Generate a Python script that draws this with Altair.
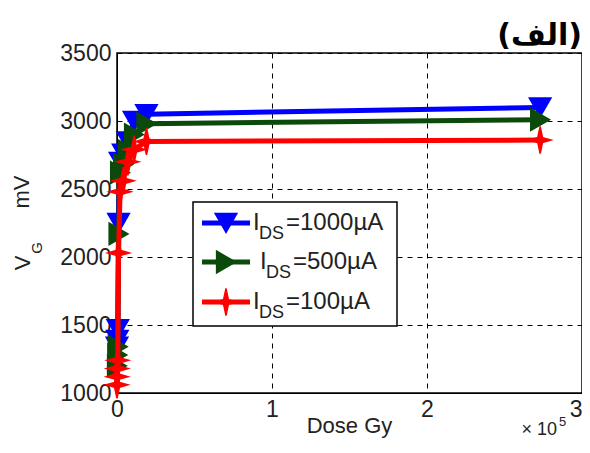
import altair as alt
import pandas as pd

# ---- data (dose in Gy, gate voltage in mV) ----
dose_1000 = [0, 200, 500, 1000, 2000, 4000, 7000, 11000, 19000, 273000]
vg_1000 = [1340, 1390, 1470, 2250, 2700, 2760, 2850, 3000, 3050, 3100]

dose_500 = [0, 200, 500, 1000, 2000, 4000, 7000, 11000, 19000, 273000]
vg_500 = [1200, 1280, 1340, 2170, 2620, 2680, 2780, 2900, 2980, 3010]

dose_100 = [0, 100, 200, 500, 1000, 2000, 4000, 7000, 11000, 19000, 273000]
vg_100 = [1060, 1120, 1180, 1240, 2030, 2480, 2560, 2700, 2790, 2850, 2860]

series_names = ["1000", "500", "100"]
series_colors = ["#0000FF", "#0B4A0B", "#FF0000"]
star = "M0,-1.25L0.22,-0.22L1,0L0.22,0.22L0,1.25L-0.22,0.22L-1,0L-0.22,-0.22Z"
series_shapes = ["triangle-down", "triangle-right", star]
legend_labels = ["=1000µA", "=500µA", "=100µA"]

x_ticks = [0, 100000, 200000, 300000]
y_ticks = [1000, 1500, 2000, 2500, 3000, 3500]

FONT = "Liberation Sans"
W, H = 465, 340

data_sets = [(dose_1000, vg_1000), (dose_500, vg_500), (dose_100, vg_100)]

x_enc = alt.X("dose:Q",
              scale=alt.Scale(domain=[0, 300000], nice=False, zero=False),
              axis=alt.Axis(values=x_ticks, labelExpr="datum.value / 100000",
                            title="", labelColor="#222",
                            labelFontSize=23, labelFont=FONT, labelPadding=5,
                            labelAlign={"condition": {"test": "datum.value >= 300000",
                                                      "value": "right"},
                                        "value": "center"},
                            ticks=False, grid=True, gridColor="black",
                            gridDash=[5, 5], gridWidth=1, domainColor="black",
                            labelFlush=False))
y_enc = alt.Y("vg:Q",
              scale=alt.Scale(domain=[1000, 3500], nice=False, zero=False),
              axis=alt.Axis(values=y_ticks, title="", format="d",
                            labelFontSize=23, labelFont=FONT, labelPadding=6,
                            labelColor="#222", ticks=False, grid=True,
                            gridColor="black", gridDash=[5, 5], gridWidth=1,
                            domainColor="black"))

layers = []
for (d, v), name, col, shp in zip(data_sets, series_names, series_colors, series_shapes):
    df = pd.DataFrame({"dose": d, "vg": v, "series": name})
    base = alt.Chart(df).encode(x=x_enc, y=y_enc, order="dose:Q")
    layers.append(base.mark_line(color=col, strokeWidth=5))
    layers.append(base.mark_point(shape=shp, filled=True, size=470, color=col,
                                  stroke=col, strokeWidth=1.5, opacity=1))

anno = pd.DataFrame({"a": [0]})

def txt(s, x, y, size=22, align="left", baseline="middle", angle=0,
        font=FONT, weight="normal", color="#222"):
    kw = dict(align=align, baseline=baseline, fontSize=size, font=font,
              fontWeight=weight, color=color)
    if angle:
        kw["angle"] = angle
    return alt.Chart(anno).mark_text(**kw).encode(
        x=alt.value(x), y=alt.value(y), text=alt.value(s))

# legend box
layers.append(alt.Chart(anno).mark_rect(fill="white", stroke="black",
                                        strokeWidth=1.5).encode(
    x=alt.value(76), x2=alt.value(280), y=alt.value(149), y2=alt.value(273)))
rows_y = [170, 209, 249]
i_x = [136, 143, 136]
for ry, ix, col, shp, lab in zip(rows_y, i_x, series_colors,
                                 series_shapes, legend_labels):
    layers.append(alt.Chart(anno).mark_rule(color=col, strokeWidth=5).encode(
        x=alt.value(85), x2=alt.value(133), y=alt.value(ry)))
    layers.append(alt.Chart(anno).mark_point(shape=shp, filled=True, size=470,
                                             color=col, stroke=col,
                                             strokeWidth=1.5, opacity=1).encode(
        x=alt.value(109), y=alt.value(ry)))
    layers.append(txt("I", ix, ry, size=24))
    layers.append(txt("DS", ix + 6, ry + 11, size=18))
    layers.append(txt(lab, ix + 33, ry, size=24))

# axis titles
layers.append(txt("Dose Gy", W / 2, 373, size=22, align="center"))
layers.append(txt("mV", -95, 139, angle=270, align="center"))
layers.append(txt("V", -94, 210, angle=270, align="center"))
layers.append(txt("G", -80, 195, size=15, angle=270, align="center"))

# exponent
layers.append(txt("× 10", 440, 382, size=18, align="right", baseline="alphabetic"))
layers.append(txt("5", 442, 373, size=13, align="left", baseline="alphabetic"))

# panel title
layers.append(txt("(الف)", 465, -17, size=30, align="right",
                  font="DejaVu Sans", weight="bold", color="black"))

chart = alt.layer(*layers).properties(
    width=W, height=H,
    autosize=alt.AutoSizeParams(type="none"),
    padding={"left": 109, "top": 45, "right": 0, "bottom": 48},
    background="white",
).configure_view(stroke="black", strokeWidth=1.5)

chart.save("out.html", embed_options={"renderer": "svg", "actions": False})
